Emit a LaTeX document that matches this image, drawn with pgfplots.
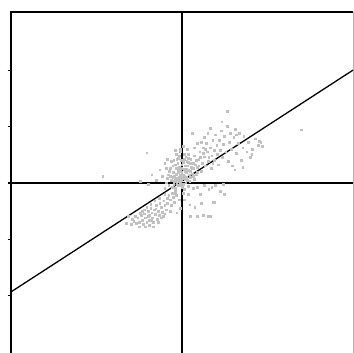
\documentclass[border=0pt]{standalone}
\usepackage{pgfplots}
\pgfplotsset{compat=1.18}
\definecolor{ptgray}{RGB}{192,192,192}
\begin{document}
\begin{tikzpicture}
\begin{axis}[
  at={(0,0)}, anchor=south west,
  width=342bp, height=342bp, scale only axis,
  xmin=-3.03, xmax=3.03, ymin=-3.03, ymax=3.03,
  axis line style={draw=none},
  xtick=\empty,
  ytick={-2,-1,0,1,2}, yticklabels={},
  ytick pos=left, tick align=outside,
  major tick length=3.5pt,
  every tick/.style={black, line width=1.2pt},
  clip=false,
]
\draw[line width=1.7pt] (rel axis cs:0,0) -- (rel axis cs:0,1) -- (rel axis cs:1,1);
\draw[gray!60, line width=0.6pt] (rel axis cs:1,1) -- (rel axis cs:1,0);
\addplot[black, line width=1.7pt] coordinates {(0,-3.03) (0,3.03)};
\addplot[black, line width=1.7pt] coordinates {(-3.03,0) (3.03,0)};
\addplot[black, line width=1.3pt] coordinates {(-3.03,-1.93) (3.03,2.0)};
\addplot[only marks, color=ptgray, mark=square*, mark size=0.9pt, mark options={draw=ptgray, fill=ptgray, line width=0pt}] coordinates {
(-0.05,0.10) (0.00,0.05) (-0.10,0.15) (0.05,0.12) (-0.02,0.20) (-0.08,0.02) (0.03,-0.02) (-0.12,0.08) (0.08,0.18) (-0.04,0.28)
(0.10,0.05) (-0.15,0.18) (0.00,0.32) (-0.06,-0.05) (0.12,0.22) (-0.18,0.05) (0.06,0.30) (-0.10,0.25) (0.02,0.14) (-0.03,0.00)
(0.15,0.10) (-0.20,0.12) (0.07,0.00) (-0.07,0.35) (0.04,0.24) (-0.14,-0.02) (0.10,0.30) (-0.01,0.40) (0.18,0.16) (-0.22,0.20)
(-0.09,0.42) (0.14,0.02) (-0.16,0.30) (0.01,-0.08) (0.20,0.25) (-0.25,0.08) (0.09,0.38) (-0.11,-0.10) (0.16,0.34) (-0.04,0.48)
(0.22,0.06) (-0.19,0.38) (0.05,-0.12) (-0.27,0.25) (0.12,0.44) (-0.06,0.18) (0.03,0.08) (-0.13,0.12) (0.08,0.10) (-0.02,0.26)
(0.00,0.18) (-0.08,0.08) (0.06,0.20) (-0.17,-0.08) (-0.23,-0.04) (-0.02,0.55) (0.04,0.50) (-0.10,0.50) (-0.28,0.00) (-0.30,-0.10)
(-0.12,-0.18) (0.02,-0.18) (0.11,-0.06)
(-0.05,0.04) (0.01,0.10) (-0.07,0.22) (0.06,0.06) (-0.13,0.02) (-0.03,0.14) (0.09,0.24) (-0.16,0.10) (0.02,0.36) (-0.11,0.32)
(0.13,0.14) (-0.20,0.26) (-0.01,-0.04) (0.05,0.42) (-0.06,0.44) (0.17,0.28) (-0.24,0.14) (-0.09,-0.02) (0.11,0.36) (0.00,0.26)
(-0.14,0.40) (0.07,0.46) (-0.03,0.60) (-0.12,0.58) (0.02,0.64)
(-0.85,-0.68) (-0.80,-0.72) (-0.78,-0.62) (-0.75,-0.70) (-0.72,-0.58) (-0.70,-0.66) (-0.68,-0.74) (-0.66,-0.55) (-0.64,-0.62) (-0.62,-0.70)
(-0.60,-0.50) (-0.58,-0.58) (-0.57,-0.66) (-0.55,-0.45) (-0.53,-0.53) (-0.52,-0.62) (-0.50,-0.70) (-0.49,-0.48) (-0.47,-0.56) (-0.45,-0.40)
(-0.44,-0.64) (-0.42,-0.50) (-0.40,-0.58) (-0.39,-0.36) (-0.37,-0.44) (-0.35,-0.52) (-0.33,-0.60) (-0.32,-0.32) (-0.30,-0.40) (-0.28,-0.48)
(-0.26,-0.28) (-0.25,-0.36) (-0.23,-0.22) (-0.21,-0.30) (-0.19,-0.40) (-0.17,-0.18) (-0.15,-0.26) (-0.13,-0.34) (-0.12,-0.14) (-0.10,-0.22)
(-0.70,-0.50) (-0.62,-0.44) (-0.55,-0.38) (-0.48,-0.32) (-0.40,-0.28) (-0.65,-0.78) (-0.58,-0.76) (-0.50,-0.78) (-0.82,-0.60) (-0.90,-0.74)
(-0.88,-0.64) (-0.76,-0.78) (-0.46,-0.46) (-0.54,-0.66) (-0.60,-0.60) (-0.36,-0.62) (-0.30,-0.55) (-0.42,-0.70) (-0.67,-0.48) (-0.74,-0.54)
(-0.95,-0.60) (-0.98,-0.72) (-0.30,-0.20) (-0.20,-0.50) (-0.05,-0.30) (-0.02,-0.45)
(0.15,0.20) (0.20,0.35) (0.25,0.15) (0.22,0.48) (0.28,0.28) (0.30,0.42) (0.32,0.55) (0.35,0.20) (0.36,0.34) (0.38,0.62)
(0.40,0.46) (0.42,0.30) (0.44,0.70) (0.45,0.55) (0.47,0.38) (0.50,0.62) (0.52,0.25) (0.53,0.48) (0.55,0.75) (0.57,0.58)
(0.58,0.40) (0.60,0.85) (0.62,0.66) (0.63,0.50) (0.65,0.32) (0.67,0.76) (0.68,0.58) (0.70,0.92) (0.72,0.45) (0.74,0.68)
(0.76,0.82) (0.78,0.55) (0.80,1.00) (0.82,0.38) (0.84,0.72) (0.86,0.88) (0.88,0.60) (0.90,0.30) (0.92,0.80) (0.95,0.95)
(0.97,0.52) (1.00,0.70) (1.02,0.88) (1.05,0.40) (1.08,0.62) (1.10,0.82) (1.15,0.55) (1.18,0.72) (1.22,0.45) (1.25,0.60)
(1.30,0.78) (1.35,0.66) (1.40,0.72) (1.24,0.50) (1.08,0.27) (0.94,0.23) (0.97,0.85) (0.50,0.97) (0.71,1.08) (0.18,0.88)
(0.81,1.26) (2.12,0.94) (1.38,0.73) (1.42,0.64)
(0.18,0.25) (0.20,0.12) (0.24,0.32) (0.26,0.40) (0.28,0.18) (0.30,0.30) (0.33,0.45) (0.16,0.42) (0.12,0.50) (0.10,0.60)
(0.22,0.62) (0.34,0.72) (0.40,0.80) (0.46,0.88) (0.28,0.70) (0.14,0.35) (0.38,0.52) (0.42,0.60) (0.48,0.45) (0.55,0.35)
(0.76,-0.21) (0.55,-0.35) (0.50,-0.60) (0.27,-0.60) (0.46,-0.60) (0.58,-0.34) (-0.09,-0.53) (0.14,-0.39) (0.05,-0.30) (0.23,-0.44)
(0.35,-0.36) (0.12,-0.20) (0.20,-0.10) (0.40,-0.05) (0.48,-0.12) (0.60,-0.04) (0.33,-0.20) (0.68,-0.15) (0.28,-0.08) (0.38,-0.58)
(0.53,-0.08) (0.73,-0.03) (0.15,-0.60)
(-0.62,0.53) (-0.25,0.41) (-1.40,0.12) (-0.53,0.14) (-0.39,0.23) (-0.30,0.35) (-0.45,0.05) (-0.35,0.12) (-0.74,0.02) (-0.60,-0.02)
};
\end{axis}
\pgfresetboundingbox
\path[use as bounding box] (-11bp,1bp) rectangle (343bp,354bp);
\end{tikzpicture}
\end{document}
